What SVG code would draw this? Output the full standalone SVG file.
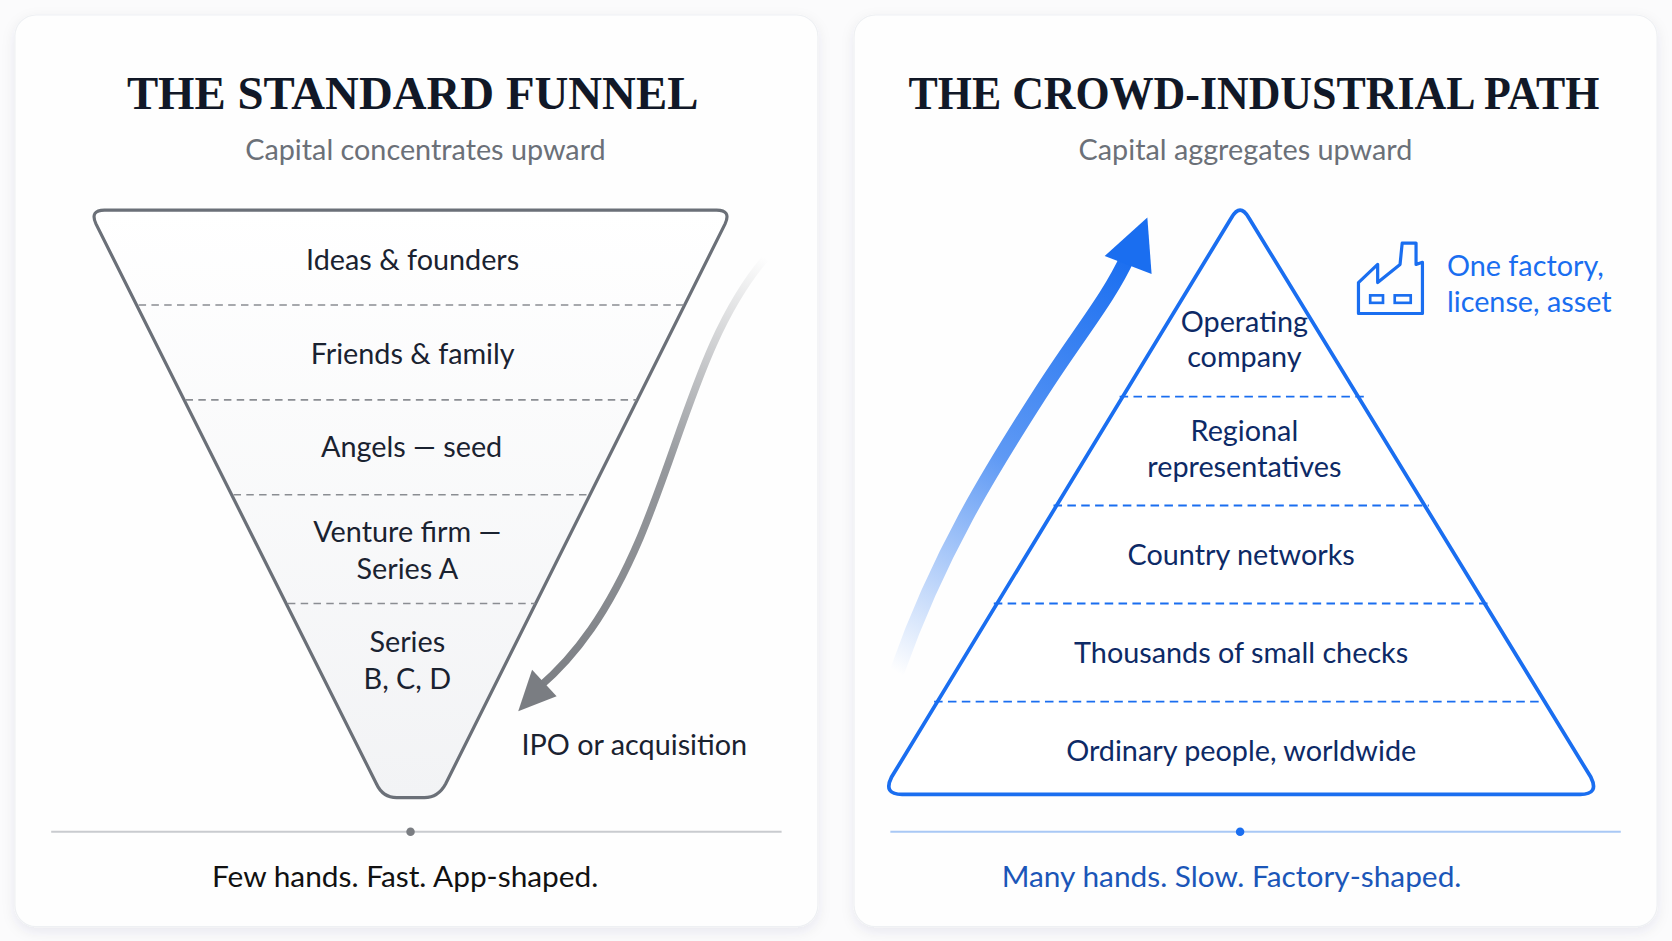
<svg xmlns="http://www.w3.org/2000/svg" width="1672" height="941" viewBox="0 0 1672 941">
<defs>
<filter id="sh" x="-5%" y="-5%" width="110%" height="110%"><feDropShadow dx="0" dy="4" stdDeviation="6" flood-color="#1a2a50" flood-opacity="0.08"/></filter>
<linearGradient id="gg" x1="718" y1="242" x2="495" y2="660" gradientUnits="userSpaceOnUse"><stop offset="0" stop-color="#8a8d92" stop-opacity="0"/><stop offset="0.45" stop-color="#8a8d92" stop-opacity="0.9"/><stop offset="1" stop-color="#7a7d82"/></linearGradient>
<linearGradient id="bg" x1="840" y1="630" x2="1060" y2="240" gradientUnits="userSpaceOnUse"><stop offset="0" stop-color="#1a6ef0" stop-opacity="0"/><stop offset="0.5" stop-color="#1a6ef0" stop-opacity="0.7"/><stop offset="1" stop-color="#1a6ef0"/></linearGradient>
<linearGradient id="fill" x1="0" y1="0" x2="0" y2="1"><stop offset="0" stop-color="#ffffff"/><stop offset="1" stop-color="#f2f3f5"/></linearGradient>
</defs>
<style>
.card{fill:#fefefe;stroke:#eef0f3;stroke-width:1}
.title{font-family:"Liberation Serif",serif;font-weight:bold;font-size:44px;fill:#111827;text-anchor:middle}
.sub{font-family:Lato,"Liberation Sans",sans-serif;font-size:27px;fill:#6b7078;text-anchor:middle}
.lt{font-family:Lato,"Liberation Sans",sans-serif;font-size:27px;fill:#1a2230;text-anchor:middle}
.rt{font-family:Lato,"Liberation Sans",sans-serif;font-size:27px;fill:#0d2a66;text-anchor:middle}
.gd{stroke:#8a8d92;stroke-width:1.5;stroke-dasharray:7 5}
.bd{stroke:#1a6ef0;stroke-width:1.8;stroke-dasharray:8 5}
</style>
<rect width="1672" height="941" fill="#fbfbfc"/>
<g transform="scale(1.0663)">
<g id="left-card">
<rect class="card" x="14" y="14" width="753" height="855" rx="20" filter="url(#sh)"/>
<text class="title" x="387" y="102" textLength="536" lengthAdjust="spacingAndGlyphs">THE STANDARD FUNNEL</text>
<text class="sub" x="399" y="150">Capital concentrates upward</text>
</g>
<g id="right-card">
<rect class="card" x="801" y="14" width="753" height="855" rx="20" filter="url(#sh)"/>
<text class="title" x="1176" y="102" textLength="648" lengthAdjust="spacingAndGlyphs">THE CROWD-INDUSTRIAL PATH</text>
<text class="sub" x="1168" y="150">Capital aggregates upward</text>
</g>
<g id="funnel">
<path d="M98,197 L672,197 Q686,197 680,210 L418,735 Q411,748 398,748 L372,748 Q359,748 353,735 L90,210 Q84,197 98,197 Z" fill="url(#fill)" stroke="#6b7078" stroke-width="3"/>
<line class="gd" x1="130" y1="286" x2="641" y2="286"/>
<line class="gd" x1="174" y1="375" x2="597" y2="375"/>
<line class="gd" x1="219" y1="464" x2="553" y2="464"/>
<line class="gd" x1="270" y1="566" x2="502" y2="566"/>
<text class="lt" x="387" y="253">Ideas &amp; founders</text>
<text class="lt" x="387" y="341">Friends &amp; family</text>
<text class="lt" x="386" y="429">Angels — seed</text>
<text class="lt" x="382" y="508">Venture firm —</text>
<text class="lt" x="382" y="543">Series A</text>
<text class="lt" x="382" y="611">Series</text>
<text class="lt" x="382" y="646">B, C, D</text>
</g>
<g id="pyramid">
<path d="M1155,204 Q1163,190 1171,204 L1492,729 Q1500,745 1482,745 L846,745 Q828,745 836,729 Z" fill="#fff" stroke="#1a6ef0" stroke-width="3.5" stroke-linejoin="round"/>
<line class="bd" x1="1050" y1="372" x2="1280" y2="372"/>
<line class="bd" x1="988" y1="474" x2="1340" y2="474"/>
<line class="bd" x1="932" y1="566" x2="1395" y2="566"/>
<line class="bd" x1="876" y1="658" x2="1450" y2="658"/>
<text class="rt" x="1167" y="311">Operating</text>
<text class="rt" x="1167" y="344">company</text>
<text class="rt" x="1167" y="414">Regional</text>
<text class="rt" x="1167" y="447">representatives</text>
<text class="rt" x="1164" y="530">Country networks</text>
<text class="rt" x="1164" y="622">Thousands of small checks</text>
<text class="rt" x="1164" y="714">Ordinary people, worldwide</text>
</g>
<g id="connectors">
<path d="M718,242 C660,310 640,410 600,505 C570,575 540,615 505,645" fill="none" stroke="url(#gg)" stroke-width="7" stroke-linecap="round"/>
<path d="M486,667 L499,628 L522,653 Z" fill="#7a7d82"/>
<path d="M842,628 C880,520 930,440 975,370 C1010,315 1040,280 1058,240" fill="none" stroke="url(#bg)" stroke-width="14" stroke-linecap="round"/>
<path d="M1076,204 L1080,257 L1036,240 Z" fill="#1a6ef0"/>
</g>
<g id="ipo-label">
<text class="lt" x="489" y="708" style="text-anchor:start">IPO or acquisition</text>
</g>
<g id="left-footer">
<line x1="48" y1="780" x2="733" y2="780" stroke="#c9cbcf" stroke-width="2"/>
<circle cx="385" cy="780" r="4" fill="#7a7d82"/>
<text class="lt" x="380" y="832" style="font-size:28px;fill:#111">Few hands. Fast. App-shaped.</text>
</g>
<g id="factory">
<path d="M1274,294 L1274,265 L1292,248 L1292,265 L1313,248 L1315,228 L1328,228 L1328,248 L1334,246 L1334,294 Z" fill="none" stroke="#1a6ef0" stroke-width="3" stroke-linejoin="round"/>
<rect x="1285" y="277" width="12" height="7" fill="none" stroke="#1a6ef0" stroke-width="2.5"/>
<rect x="1308" y="277" width="15" height="7" fill="none" stroke="#1a6ef0" stroke-width="2.5"/>
<text x="1357" y="259" style="font-family:Lato,'Liberation Sans',sans-serif;font-size:27px;fill:#1a6ef0">One factory,</text>
<text x="1357" y="293" style="font-family:Lato,'Liberation Sans',sans-serif;font-size:27px;fill:#1a6ef0">license, asset</text>
</g>
<g id="right-footer">
<line x1="835" y1="780" x2="1520" y2="780" stroke="#a9c8f5" stroke-width="2"/>
<circle cx="1163" cy="780" r="4" fill="#1a6ef0"/>
<text class="lt" x="1155" y="832" style="font-size:28px;fill:#1b56b8">Many hands. Slow. Factory-shaped.</text>
</g>
</g>
</svg>
